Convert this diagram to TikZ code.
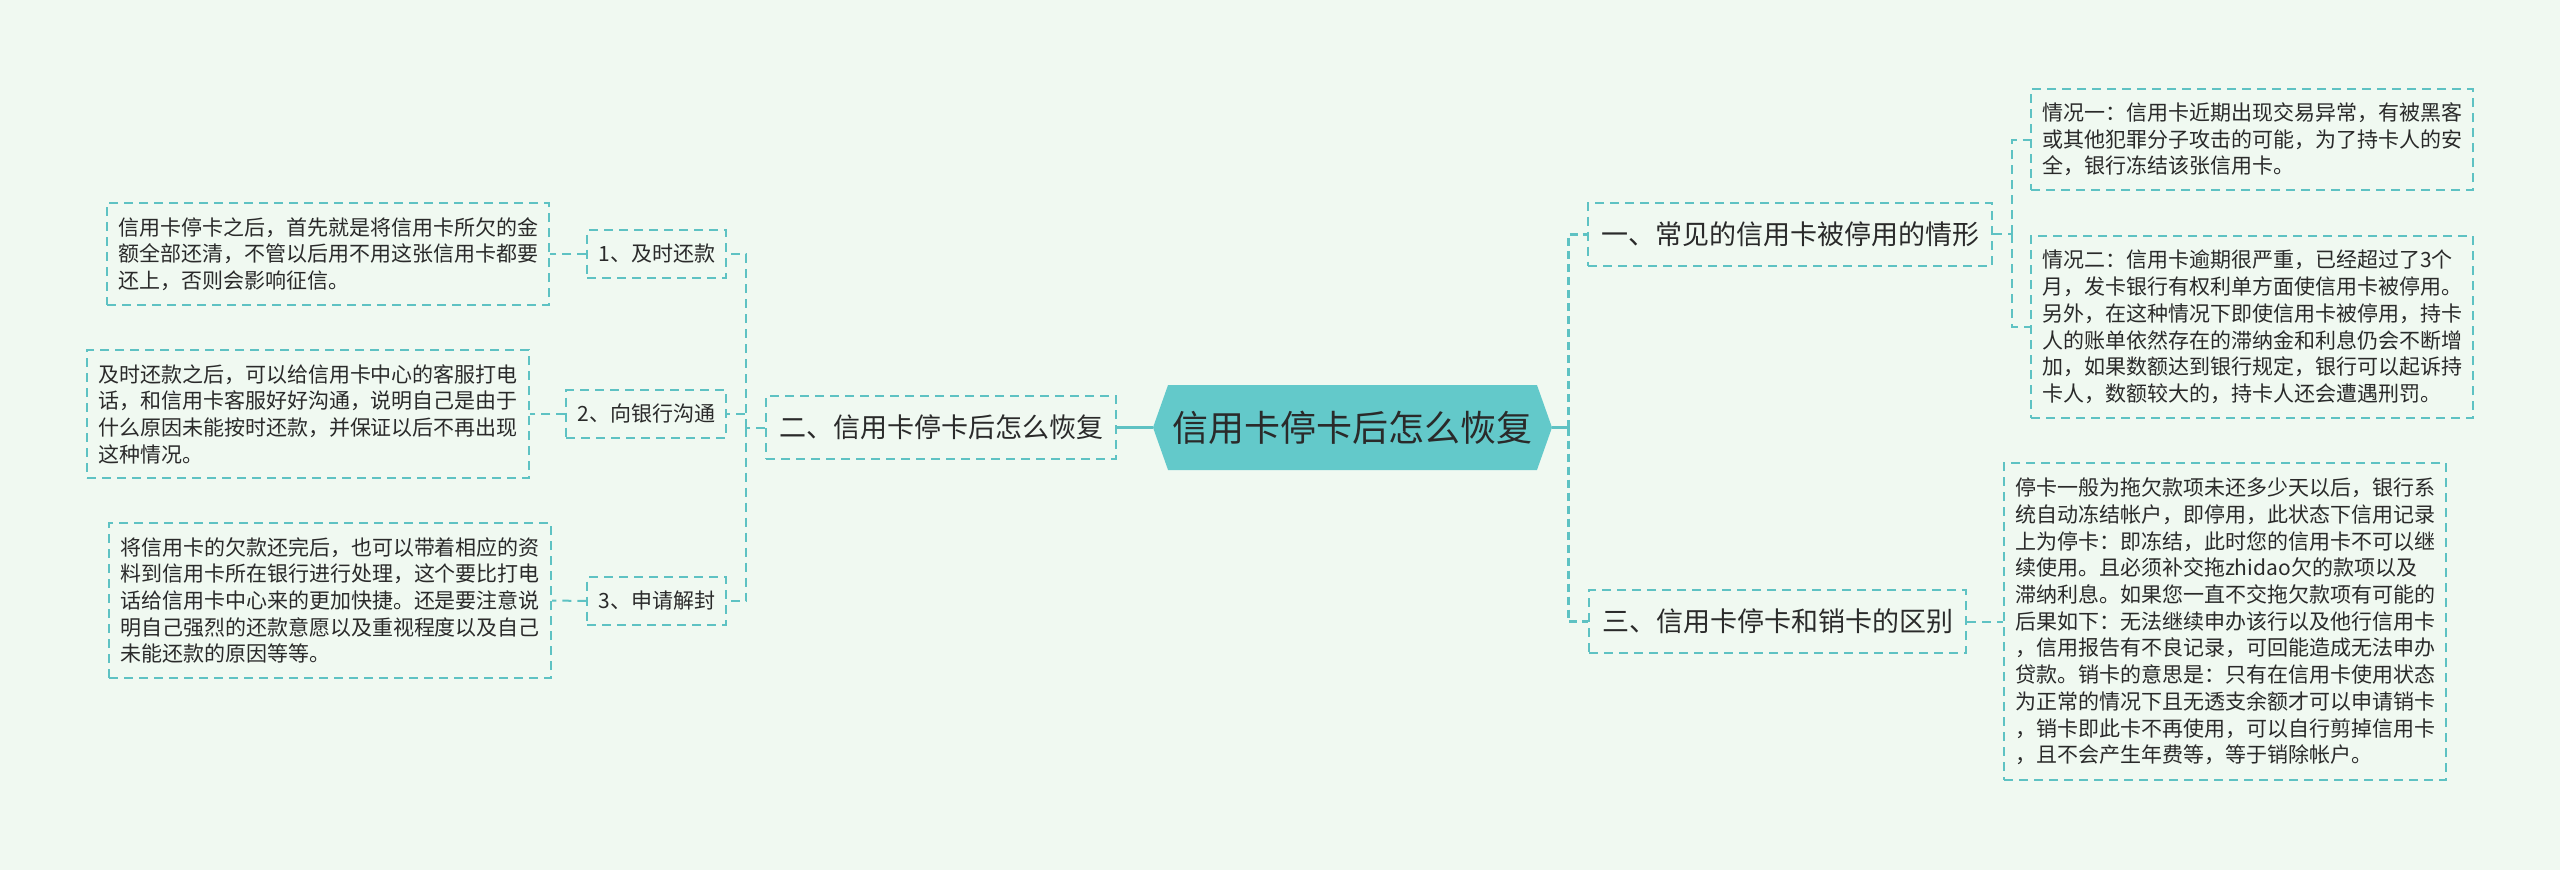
\documentclass[tikz,border=0pt]{standalone}
\usepackage{fontspec}
\setmainfont{Noto Sans CJK SC}
\usetikzlibrary{shapes.symbols}
\definecolor{bgcol}{HTML}{F0F9F1}
\definecolor{lnk}{HTML}{5EC2C3}
\definecolor{rootcol}{HTML}{63C9CA}
\definecolor{txt}{HTML}{2A2A2A}
\tikzset{
  link/.style={draw=lnk, line width=2pt, dash pattern=on 9pt off 6pt},
  trunk/.style={draw=lnk, line width=3pt, dash pattern=on 8pt off 5pt},
  solidlink/.style={draw=lnk, line width=3pt},
  rootbox/.style={signal, signal to=west and east, signal pointer angle=141,
    fill=rootcol, inner sep=0pt, minimum width=399pt, minimum height=85pt,
    text=txt, font=\fontsize{36}{40}\selectfont},
  secbox/.style={link, text=txt, inner xsep=13pt, minimum height=63pt,
    font=\fontsize{27}{32}\selectfont},
  subbox/.style={link, text=txt, inner xsep=11pt, minimum height=48pt,
    font=\fontsize{21}{26}\selectfont},
  leafbox/.style={link, text=txt, text width=420pt, align=left, inner xsep=11pt,
    font=\fontsize{21}{26.7}\selectfont},
}
\begin{document}
\begin{tikzpicture}[x=1pt,y=-1pt]

% background
\fill[bgcol] (0,0) rectangle (2560,870);

% root
\node[rootbox] (root) at (1352.5,427.5) {信用卡停卡后怎么恢复};

% left branch
\node[secbox, anchor=east] (sec2) at (1117,427.5) {二、信用卡停卡后怎么恢复};
\node[subbox, anchor=east] (s1) at (727,254) {1、及时还款};
\node[subbox, anchor=east] (s2) at (727,414) {2、向银行沟通};
\node[subbox, anchor=east] (s3) at (727,601) {3、申请解封};

\node[leafbox, anchor=east, minimum height=102pt] (l1) at (550,254) {信用卡停卡之后，首先就是将信用卡所欠的金\\额全部还清，不管以后用不用这张信用卡都要\\还上，否则会影响征信。};
\node[leafbox, anchor=east, minimum height=128pt] (l2) at (530,414) {及时还款之后，可以给信用卡中心的客服打电\\话，和信用卡客服好好沟通，说明自己是由于\\什么原因未能按时还款，并保证以后不再出现\\这种情况。};
\node[leafbox, anchor=east, minimum height=155pt] (l3) at (552,600.5) {将信用卡的欠款还完后，也可以带着相应的资\\料到信用卡所在银行进行处理，这个要比打电\\话给信用卡中心来的更加快捷。还是要注意说\\明自己强烈的还款意愿以及重视程度以及自己\\未能还款的原因等等。};

% right branch
\node[secbox, anchor=west] (sec1) at (1587,234) {一、常见的信用卡被停用的情形};
\node[secbox, anchor=west] (sec3) at (1588,621.5) {三、信用卡停卡和销卡的区别};

\node[leafbox, anchor=west, minimum height=101pt] (r1) at (2030,139.5) {情况一：信用卡近期出现交易异常，有被黑客\\或其他犯罪分子攻击的可能，为了持卡人的安\\全，银行冻结该张信用卡。};
\node[leafbox, anchor=west, minimum height=182pt] (r2) at (2030,327) {情况二：信用卡逾期很严重，已经超过了3个\\月，发卡银行有权利单方面使信用卡被停用。\\另外，在这种情况下即使信用卡被停用，持卡\\人的账单依然存在的滞纳金和利息仍会不断增\\加，如果数额达到银行规定，银行可以起诉持\\卡人，数额较大的，持卡人还会遭遇刑罚。};
\node[leafbox, anchor=west, minimum height=317pt] (r3) at (2003,621.5) {停卡一般为拖欠款项未还多少天以后，银行系\\统自动冻结帐户，即停用，此状态下信用记录\\上为停卡：即冻结，此时您的信用卡不可以继\\续使用。且必须补交拖zhidao欠的款项以及\\滞纳利息。如果您一直不交拖欠款项有可能的\\后果如下：无法继续申办该行以及他行信用卡\\，信用报告有不良记录，可回能造成无法申办\\贷款。销卡的意思是：只有在信用卡使用状态\\为正常的情况下且无透支余额才可以申请销卡\\，销卡即此卡不再使用，可以自行剪掉信用卡\\，且不会产生年费等，等于销除帐户。};

% joints
\coordinate (lj) at (746,427.5);
\coordinate (rj) at (1568,427.5);
\coordinate (rj1) at (2012,234);

% edges
\draw[solidlink] (root.west) -- (sec2.east);
\draw[solidlink] (root.east) -- (rj);
\draw[trunk] (rj) |- (sec1.west);
\draw[trunk] (rj) |- (sec3.west);

\draw[link] (sec2.west) -- (lj);
\draw[link] (lj) |- (s1.east);
\draw[link] (lj) |- (s2.east);
\draw[link] (lj) |- (s3.east);
\draw[link] (s1.west) -- (l1.east);
\draw[link] (s2.west) -- (l2.east);
\draw[link] (s3.west) -- (l3.east);

\draw[link] (sec1.east) -- (rj1);
\draw[link] (rj1) |- (r1.west);
\draw[link] (rj1) |- (r2.west);
\draw[link] (sec3.east) -- (r3.west);

\end{tikzpicture}
\end{document}
